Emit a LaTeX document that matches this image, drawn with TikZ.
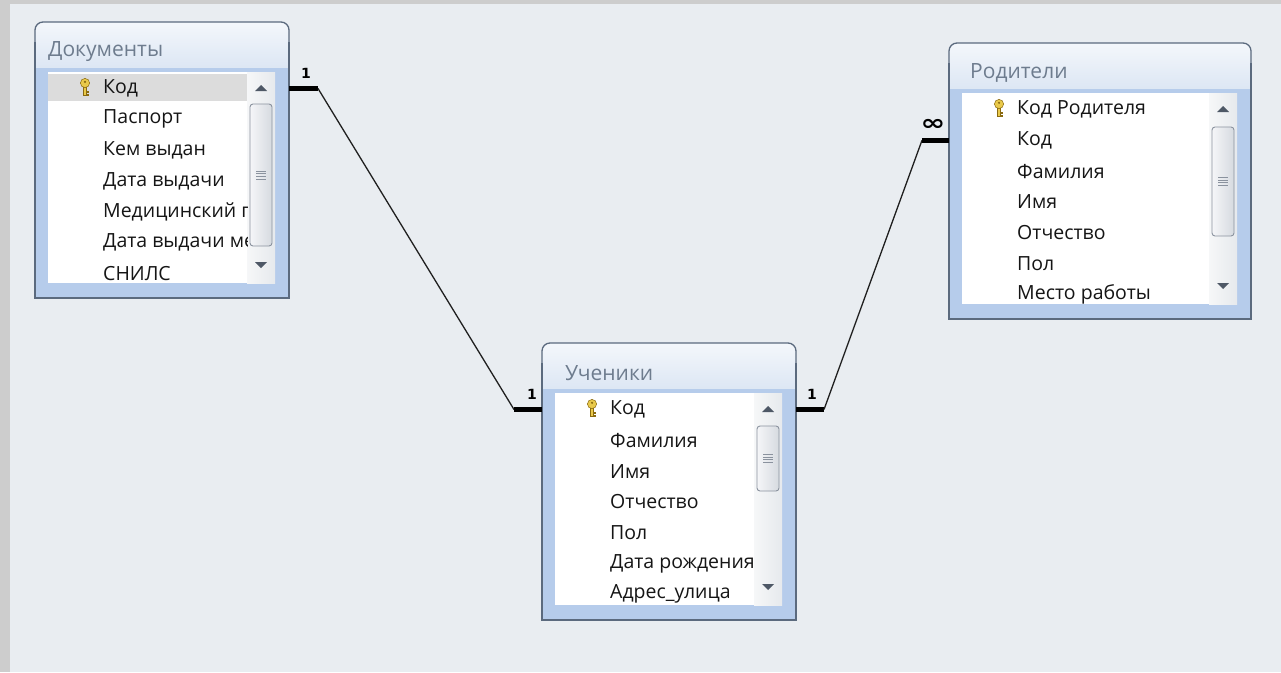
\documentclass[tikz,border=0pt]{standalone}
\usepackage{fontspec}
\setmainfont{Open Sans}
\newfontfamily\symfont{DejaVu Sans}
\usetikzlibrary{calc}
\definecolor{bgc}{HTML}{E9EDF1}
\definecolor{stripc}{HTML}{CDCDCD}
\definecolor{borderc}{HTML}{5B6A7E}
\definecolor{bandc}{HTML}{B6CCEB}
\definecolor{titletop}{HTML}{F4F7FB}
\definecolor{titlebot}{HTML}{D9E4F3}
\definecolor{titlec}{HTML}{6E7C8E}
\definecolor{rowc}{HTML}{151515}
\definecolor{hlc}{HTML}{DCDCDC}
\definecolor{scrollL}{HTML}{F6F7F8}
\definecolor{scrollR}{HTML}{E6E9ED}
\definecolor{thumbL}{HTML}{F5F6F8}
\definecolor{thumbR}{HTML}{D6DAE0}
\definecolor{thumbB}{HTML}{8A929E}
\definecolor{arrowc}{HTML}{4E5866}
\definecolor{keygold}{HTML}{E9C94A}
\definecolor{keydark}{HTML}{8A6A10}
\definecolor{linec}{HTML}{202020}
\tikzset{
  rowtext/.style={anchor=west, inner sep=0pt, font=\fontsize{19.5}{21}\selectfont, text=rowc},
  titletext/.style={anchor=west, inner sep=0pt, font=\fontsize{21}{23}\selectfont, text=titlec},
  tborder/.style={draw=borderc, line width=1.3pt},
  stub/.style={draw=black, line width=4.5pt},
  relline/.style={draw=linec, line width=1.3pt},
  card/.style={inner sep=0pt, font=\symfont\bfseries\fontsize{14}{14}\selectfont},
  cardinf/.style={inner sep=0pt, xscale=1.35, font=\symfont\bfseries\fontsize{22}{22}\selectfont},
}
\def\tblhl{0}
% #1 name, #2 x0, #3 y0, #4 x1, #5 y1, #6 title, #7 thumb top, #8 thumb bottom, #9 rows
\newcommand\acctable[9]{%
  \pgfmathsetmacro\tw{#4-#2}\pgfmathsetmacro\th{#5-#3}%
  \shade[top color=titletop, bottom color=titlebot, rounded corners=8pt] (#2,#3) rectangle (#4,#3+52);
  \fill[bandc] (#2,#3+46) rectangle (#4,#5);
  \draw[tborder, rounded corners=8pt] (#2,#3+20) -- (#2,#3) -- (#4,#3) -- (#4,#3+20);
  \draw[tborder] (#2,#3+20) -- (#2,#5) -- (#4,#5) -- (#4,#3+20);
  \node[inner sep=0pt, outer sep=0pt, minimum width=\tw pt, minimum height=\th pt, anchor=north west] (#1) at (#2,#3) {};
  \node[titletext] (#1-title) at (#2+13,#3+30) {#6};
  \fill[white] (#2+13,#3+50) rectangle (#4-14,#5-15);
  \ifnum\tblhl=1 \fill[hlc] (#2+13,#3+52) rectangle (#4-42,#3+79);\fi
  \shade[left color=scrollL, right color=scrollR] (#4-42,#3+50) rectangle (#4-14,#5-15);
  \fill[arrowc] (#4-34,#3+69) -- (#4-22,#3+69) -- (#4-28,#3+63) -- cycle;
  \fill[arrowc] (#4-34,#5-36) -- (#4-22,#5-36) -- (#4-28,#5-30) -- cycle;
  \shade[left color=thumbL, right color=thumbR, rounded corners=3pt] (#4-39,#7) rectangle (#4-17,#8);
  \draw[draw=thumbB, line width=0.9pt, rounded corners=3pt] (#4-39,#7) rectangle (#4-17,#8);
  \pgfmathsetmacro\tmid{(#7+#8)/2}%
  \foreach \d in {-4,-1.3,1.3,4} {\draw[thumbB, line width=0.8pt] (#4-33,\tmid+\d) -- (#4-23,\tmid+\d);}
  \begin{scope}
    \clip (#2+13,#3+50) rectangle (#4-42,#5-15);
    \foreach \t [count=\i from 0] in {#9} {
      \node[rowtext] (#1-r\i) at (#2+68,#3+66.5+30.8*\i) {\t};
    }
  \end{scope}
  \begin{scope}[shift={(#2+50,#3+65)}]
    \fill[keygold, draw=keydark, line width=0.5pt] (-1.4,-1) rectangle (1.4,8.5);
    \fill[keygold, draw=keydark, line width=0.5pt] (1.4,4) rectangle (3.6,5.6);
    \fill[keygold, draw=keydark, line width=0.5pt] (1.4,6.8) rectangle (3.2,8.3);
    \fill[keygold, draw=keydark, line width=0.5pt] (0,-4) circle[radius=4.6pt];
    \fill[keydark] (0,-5.2) circle[radius=1.2pt];
  \end{scope}
}
\begin{document}
\begin{tikzpicture}[x=1pt,y=-1pt]
  \useasboundingbox (0,0) rectangle (1281,672);
  \fill[bgc] (0,0) rectangle (1281,672);
  \fill[stripc] (0,0) rectangle (1281,4);
  \fill[stripc] (0,0) rectangle (10,672);

  \def\tblhl{1}
  \acctable{doc}{35}{22}{289}{298}{\hspace*{0pt}Документы}{104}{246}%
    {Код,Паспорт,Кем выдан,Дата выдачи,Медицинский полис,Дата выдачи мед,СНИЛС}
  \def\tblhl{0}
  \acctable{uch}{542}{343}{796}{620}{\hspace*{10pt}Ученики}{426}{491}%
    {Код,Фамилия,Имя,Отчество,Пол,Дата рождения,Адрес\_улица}
  \acctable{rod}{949}{43}{1251}{319}{\hspace*{8pt}Родители}{127}{236}%
    {Код Родителя,Код,Фамилия,Имя,Отчество,Пол,Место работы}

  % connectors
  \coordinate (s1) at ([xshift=29pt]doc.east |- doc-r0);
  \coordinate (s2) at ([xshift=-28pt]uch.west |- uch-r0);
  \coordinate (s3) at ([xshift=28pt]uch.east |- uch-r0);
  \coordinate (s4) at ([xshift=-27pt]rod.west |- rod-r1);
  \draw[stub] (doc.east |- doc-r0) -- (s1);
  \draw[relline] (s1) -- (s2);
  \draw[stub] (s2) -- (uch.west |- uch-r0);
  \draw[stub] (uch.east |- uch-r0) -- (s3);
  \draw[relline] (s3) -- (s4);
  \draw[stub] (s4) -- (rod.west |- rod-r1);

  \node[card] (c1) at (306,73) {1};
  \node[card] (c2) at (532,394) {1};
  \node[card] (c3) at (812,394) {1};
  \node[cardinf] (c4) at (933,125) {∞};
\end{tikzpicture}
\end{document}
